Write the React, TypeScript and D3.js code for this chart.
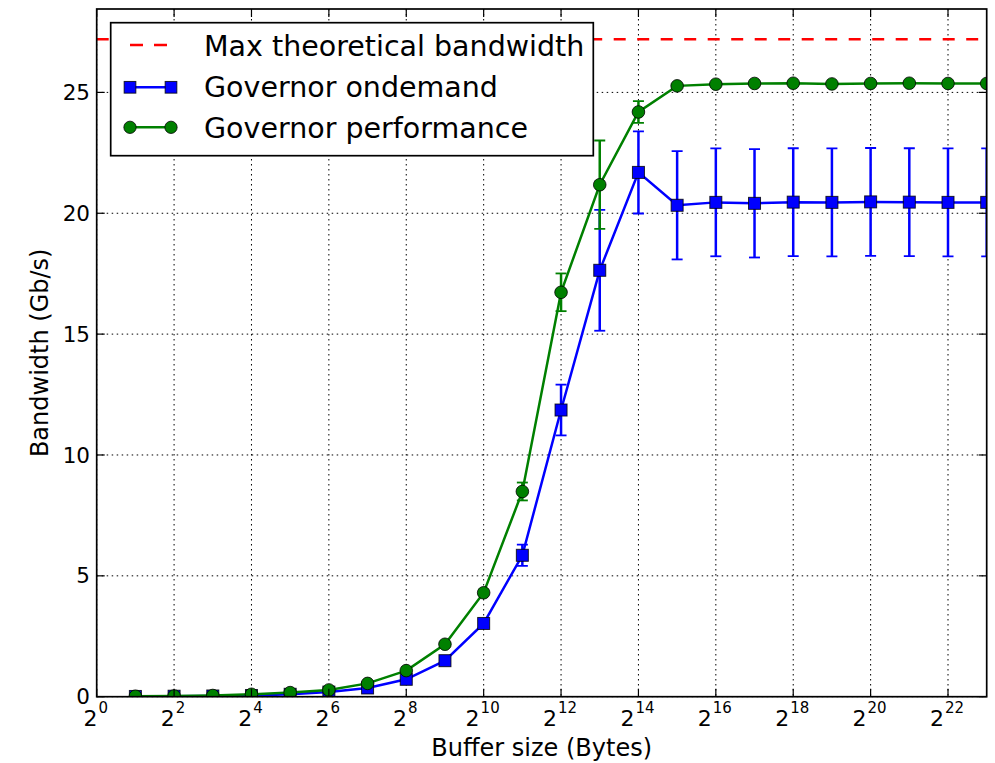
import React from "react";
import * as d3 from "d3";

const bufferExponents = [1, 2, 3, 4, 5, 6, 7, 8, 9, 10, 11, 12, 13, 14, 15, 16, 17, 18, 19, 20, 21, 22, 23];
const ondemand = [0.01, 0.02, 0.03, 0.05, 0.1, 0.19, 0.36, 0.72, 1.49, 3.03, 5.85, 11.86, 17.64, 21.69, 20.33, 20.45, 20.41, 20.46, 20.45, 20.47, 20.46, 20.45, 20.45];
const ondemandErr = [0, 0, 0, 0, 0, 0.01, 0.02, 0.04, 0.08, 0.15, 0.44, 1.05, 2.5, 1.7, 2.24, 2.23, 2.24, 2.23, 2.23, 2.23, 2.23, 2.23, 2.23];
const performance = [0.02, 0.03, 0.05, 0.1, 0.17, 0.28, 0.55, 1.08, 2.17, 4.3, 8.49, 16.73, 21.18, 24.19, 25.27, 25.34, 25.37, 25.38, 25.35, 25.37, 25.38, 25.37, 25.37];
const performanceErr = [0, 0, 0, 0, 0.01, 0.01, 0.02, 0.04, 0.06, 0.1, 0.37, 0.78, 1.83, 0.45, 0.08, 0.05, 0.05, 0.05, 0.05, 0.05, 0.05, 0.05, 0.05];
const maxBandwidth = 27.2;
const xTickExponents = [0, 2, 4, 6, 8, 10, 12, 14, 16, 18, 20, 22];
const yTicks = [0, 5, 10, 15, 20, 25];
const legendLabels = ["Max theoretical bandwidth", "Governor ondemand", "Governor performance"];

const W = 995, H = 763;
const L = 96.7, R = 986.7, T = 9, B = 696.7;
const FONT = "'DejaVu Sans', sans-serif";

export default function App() {
  const x = d3.scaleLog().base(2).domain([1, Math.pow(2, 23)]).range([L, R]);
  const y = d3.scaleLinear().domain([0, 28.45]).range([B, T]);
  const line = d3.line<number>().x((d, i) => x(Math.pow(2, bufferExponents[i]))).y((d) => y(d));

  const series = [
    { vals: ondemand, err: ondemandErr, color: "#0000ff", marker: "square" },
    { vals: performance, err: performanceErr, color: "#008000", marker: "circle" },
  ];

  const marker = (kind: string, cx: number, cy: number, color: string, key: any, s = 12) =>
    kind === "square" ? (
      <rect key={key} x={cx - s / 2} y={cy - s / 2} width={s} height={s} fill={color} stroke="#000" strokeWidth={1} strokeOpacity={0.8} />
    ) : (
      <circle key={key} cx={cx} cy={cy} r={s / 2 + 0.3} fill={color} stroke="#000" strokeWidth={1} strokeOpacity={0.8} />
    );

  return (
    <svg width={W} height={H} style={{ position: "absolute", left: 0, top: 0, background: "#fff" }} fontFamily={FONT}>
      <defs>
        <clipPath id="plot">
          <rect x={L} y={T} width={R - L} height={B - T} />
        </clipPath>
      </defs>
      <rect x={0} y={0} width={W} height={H} fill="#fff" />
      {/* grid */}
      <g stroke="#000" strokeWidth={1} strokeDasharray="1.5,3.5">
        {xTickExponents.map((e) => (
          <line key={"gx" + e} x1={x(Math.pow(2, e))} x2={x(Math.pow(2, e))} y1={T} y2={B} />
        ))}
        {yTicks.map((v) => (
          <line key={"gy" + v} x1={L} x2={R} y1={y(v)} y2={y(v)} />
        ))}
      </g>
      <g clipPath="url(#plot)">
        <line x1={L} x2={R} y1={y(maxBandwidth)} y2={y(maxBandwidth)} stroke="#ff0000" strokeWidth={2.5} strokeDasharray="12,11.5" />
        {series.map((s, si) => (
          <g key={si}>
            {s.vals.map((v, i) => {
              const cx = x(Math.pow(2, bufferExponents[i]));
              const e = s.err[i];
              if (e <= 0) return null;
              return (
                <g key={i} stroke={s.color}>
                  <line x1={cx} x2={cx} y1={y(v - e)} y2={y(v + e)} strokeWidth={2.5} />
                  <line x1={cx - 5.5} x2={cx + 5.5} y1={y(v - e)} y2={y(v - e)} strokeWidth={1.8} />
                  <line x1={cx - 5.5} x2={cx + 5.5} y1={y(v + e)} y2={y(v + e)} strokeWidth={1.8} />
                </g>
              );
            })}
            <path d={line(s.vals) || ""} fill="none" stroke={s.color} strokeWidth={2.5} />
            {s.vals.map((v, i) => marker(s.marker, x(Math.pow(2, bufferExponents[i])), y(v), s.color, i))}
          </g>
        ))}
      </g>
      {/* ticks */}
      <g stroke="#000" strokeWidth={1.2}>
        {xTickExponents.map((e) => {
          const px = x(Math.pow(2, e));
          return (
            <g key={"tx" + e}>
              <line x1={px} x2={px} y1={B} y2={B - 8} />
              <line x1={px} x2={px} y1={T} y2={T + 8} />
            </g>
          );
        })}
        {yTicks.map((v) => (
          <g key={"ty" + v}>
            <line x1={L} x2={L + 8} y1={y(v)} y2={y(v)} />
            <line x1={R} x2={R - 8} y1={y(v)} y2={y(v)} />
          </g>
        ))}
      </g>
      <rect x={L} y={T} width={R - L} height={B - T} fill="none" stroke="#000" strokeWidth={1.7} />
      {/* tick labels */}
      {yTicks.map((v) => (
        <text key={"yl" + v} x={90} y={y(v) + 7.6} fontSize={21.5} textAnchor="end" fill="#000">
          {v}
        </text>
      ))}
      {xTickExponents.map((e) => (
        <text key={"xl" + e} x={x(Math.pow(2, e)) - 1} y={725.5} fontSize={22} textAnchor="middle" fill="#000">
          <tspan>2</tspan>
          <tspan dy={-12.5} fontSize={15} dx={1}>{e}</tspan>
        </text>
      ))}
      <text x={(L + R) / 2} y={756} fontSize={24} textAnchor="middle" fill="#000">Buffer size (Bytes)</text>
      <text transform={`translate(48,${(T + B) / 2}) rotate(-90)`} fontSize={24} textAnchor="middle" fill="#000">Bandwidth (Gb/s)</text>
      {/* legend */}
      <g>
        <rect x={110.7} y={22.7} width={482.6} height={133} fill="#fff" stroke="#000" strokeWidth={1.7} />
        <line x1={130} x2={171} y1={45} y2={45} stroke="#ff0000" strokeWidth={2.5} strokeDasharray="13,11" />
        <line x1={130} x2={171} y1={87.3} y2={87.3} stroke="#0000ff" strokeWidth={2.5} />
        {marker("square", 130, 87.3, "#0000ff", "ls1", 11.7)}
        {marker("square", 171, 87.3, "#0000ff", "ls2", 11.7)}
        <line x1={130} x2={171} y1={127.3} y2={127.3} stroke="#008000" strokeWidth={2.5} />
        {marker("circle", 130, 127.3, "#008000", "lc1", 11.7)}
        {marker("circle", 171, 127.3, "#008000", "lc2", 11.7)}
        {legendLabels.map((t, i) => (
          <text key={t} x={204} y={55.5 + i * 41.3} fontSize={28.5} fill="#000">{t}</text>
        ))}
      </g>
    </svg>
  );
}
